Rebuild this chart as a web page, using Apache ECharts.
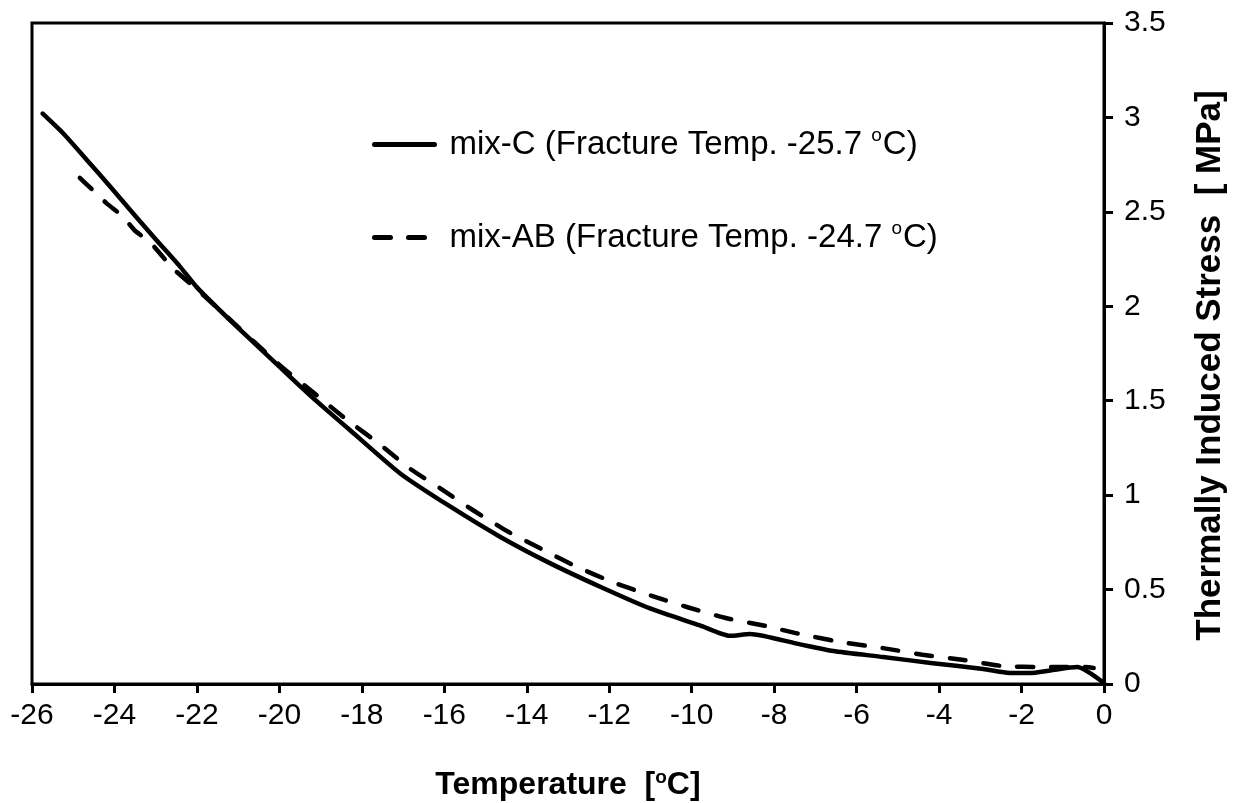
<!DOCTYPE html>
<html>
<head>
<meta charset="utf-8">
<script src="https://cdn.jsdelivr.net/npm/echarts@6/dist/echarts.min.js"></script>
<style>
html,body{margin:0;padding:0;background:#fff;}
#chart{width:1234px;height:803px;}
</style>
</head>
<body>
<div id="chart"></div>
<script>
// Temperature [°C] vs thermally induced stress [MPa]
var mixC_T = [-25.74, -25.24, -24.67, -24.1, -23.54, -22.98, -22.41, -22.0, -21.2, -20.0, -19.5, -18.85, -18.29, -17.07, -15.86, -14.65, -13.44, -12.22, -11.01, -9.8, -9.07, -8.59, -7.37, -6.57, -5.36, -4.15, -2.93, -2.35, -1.8, -1.3, -0.65, 0];
var mixC_S = [3.02, 2.915, 2.775, 2.633, 2.49, 2.35, 2.21, 2.10, 1.927, 1.68, 1.577, 1.45, 1.345, 1.115, 0.94, 0.78, 0.64, 0.515, 0.40, 0.31, 0.255, 0.265, 0.21, 0.175, 0.143, 0.11, 0.08, 0.06, 0.058, 0.072, 0.09, 0.005];
var mixAB_T = [-24.84, -24.55, -24.19, -23.82, -23.5, -23.14, -22.82, -22.53, -22.0, -21.2, -20.0, -19.1, -18.37, -17.6, -16.83, -16.06, -15.3, -14.45, -13.6, -12.78, -11.9, -10.97, -10.08, -9.15, -8.2, -7.45, -6.33, -5.36, -4.4, -3.4, -2.45, -1.48, -0.5, -0.25];
var mixAB_S = [2.68, 2.62, 2.545, 2.48, 2.40, 2.34, 2.26, 2.19, 2.09, 1.93, 1.69, 1.53, 1.40, 1.275, 1.14, 1.03, 0.92, 0.806, 0.71, 0.62, 0.538, 0.467, 0.405, 0.348, 0.307, 0.268, 0.22, 0.19, 0.155, 0.127, 0.095, 0.09, 0.09, 0.085];
var seriesNames = ['mix-C (Fracture Temp. -25.7 oC)', 'mix-AB (Fracture Temp. -24.7 oC)'];
var xTicks = {min: -26, max: 0, interval: 2};
var yTicks = {min: 0, max: 3.5, interval: 0.5};

function zip(a, b) { return a.map(function (v, i) { return [v, b[i]]; }); }

var font = '"Liberation Sans", Arial, sans-serif';
var chart = echarts.init(document.getElementById('chart'), null, {renderer: 'canvas'});
chart.setOption({
  animation: false,
  backgroundColor: '#fff',
  grid: {left: 32, right: 130, top: 23, bottom: 119, show: true, borderColor: '#000', borderWidth: 3,
    containLabel: false, outerBoundsMode: 'none'},
  legend: {
    orient: 'vertical',
    left: 367, top: 121,
    itemWidth: 60, itemHeight: 6, itemGap: 58,
    itemStyle: {color: 'rgba(0,0,0,0)', borderWidth: 0},
    lineStyle: {width: 5, cap: 'round'},
    textStyle: {
      fontFamily: font, fontSize: 33, color: '#000', padding: [0, 0, 0, 10], lineHeight: 33,
      rich: {
        t: {fontFamily: font, fontSize: 33, color: '#000', lineHeight: 33},
        s: {fontFamily: font, fontSize: 19, color: '#000', verticalAlign: 'bottom', padding: [0, 1, 16, 0]}
      }
    },
    formatter: function (name) {
      var i = name.indexOf(' oC');
      return '{t|' + name.slice(0, i + 1) + '}{s|o}{t|C)}';
    },
    data: seriesNames
  },
  xAxis: {
    type: 'value', min: xTicks.min, max: xTicks.max, interval: xTicks.interval,
    name: '{t|Temperature  [}{s|o}{t|C]}',
    nameLocation: 'middle', nameGap: 84, nameMoveOverlap: false,
    nameTextStyle: {fontFamily: font, fontSize: 32, fontWeight: 'bold', color: '#000',
      rich: {
        t: {fontFamily: font, fontSize: 32, fontWeight: 'bold', color: '#000'},
        s: {fontFamily: font, fontSize: 19, fontWeight: 'bold', color: '#000', verticalAlign: 'bottom', padding: [0, 0, 16, 0]}
      }},
    axisLine: {show: true, onZero: false, lineStyle: {color: '#000', width: 3}},
    axisTick: {show: true, inside: false, length: 9, lineStyle: {color: '#000', width: 3}},
    axisLabel: {fontFamily: font, fontSize: 30, color: '#000', margin: 17},
    splitLine: {show: false}
  },
  yAxis: {
    type: 'value', position: 'right', min: yTicks.min, max: yTicks.max, interval: yTicks.interval,
    name: 'Thermally Induced Stress  [ MPa]',
    nameLocation: 'middle', nameGap: 89, nameRotate: 90, nameMoveOverlap: false,
    nameTextStyle: {fontFamily: font, fontSize: 35, fontWeight: 'bold', color: '#000', padding: [0, 24, 0, 0]},
    axisLine: {show: true, onZero: false, lineStyle: {color: '#000', width: 3}},
    axisTick: {show: true, inside: false, length: 9, lineStyle: {color: '#000', width: 3}},
    axisLabel: {fontFamily: font, fontSize: 30, color: '#000', margin: 20,
      formatter: function (v) { return String(v); }},
    splitLine: {show: false}
  },
  series: [
    {
      name: seriesNames[0], type: 'line', data: zip(mixC_T, mixC_S),
      symbol: 'none', smooth: 0.2,
      lineStyle: {color: '#000', width: 4.5, cap: 'round', join: 'round'},
      itemStyle: {color: '#000'}
    },
    {
      name: seriesNames[1], type: 'line', data: zip(mixAB_T, mixAB_S),
      symbol: 'none', smooth: 0.2,
      lineStyle: {color: '#000', width: 4.5, type: [16, 18], cap: 'round', join: 'round'},
      itemStyle: {color: '#000'}
    }
  ]
});
</script>
</body>
</html>
